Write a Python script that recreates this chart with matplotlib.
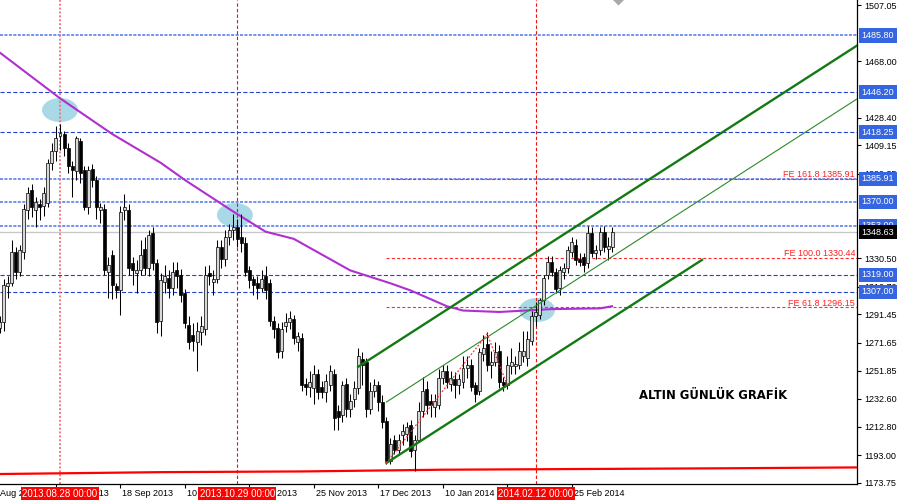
import matplotlib
matplotlib.use('Agg')
import matplotlib.pyplot as plt
import matplotlib.transforms as mtransforms
from matplotlib.patches import Ellipse
import numpy as np
import pandas as pd

plt.rcParams['font.family'] = ['Liberation Sans', 'DejaVu Sans']
plt.rcParams['lines.scale_dashes'] = False

# daily bars 2013-08-07 .. 2014-03-11, no bars on 25 Dec and 1 Jan
first_bar = '2013-08-07'
last_bar = '2014-03-11'
no_bar_days = ['2013-12-25', '2014-01-01']
anchor_day = '2013-08-28'   # bar index 0

opens = [1282, 1286, 1311, 1313, 1335, 1321, 1335, 1364, 1378, 1364, 1368, 1367, 1369, 1397, 1405,
         1416, 1417, 1407, 1395, 1391, 1412, 1392, 1366, 1393, 1385, 1364, 1365, 1321, 1333, 1311,
         1308, 1364, 1364, 1327, 1320, 1322, 1337, 1324, 1348, 1327, 1287, 1314, 1317, 1310, 1322,
         1319, 1306, 1284, 1277, 1272, 1279, 1281, 1320, 1314, 1316, 1338, 1330, 1345, 1350, 1352,
         1345, 1341, 1322, 1316, 1313, 1310, 1318, 1313, 1287, 1282, 1266, 1283, 1286, 1288, 1272,
         1275, 1243, 1241, 1240, 1250, 1241, 1237, 1242, 1250, 1224, 1221, 1243, 1225, 1232, 1240,
         1260, 1258, 1225, 1238, 1242, 1230, 1217, 1189, 1204, 1197, 1207, 1208, 1214, 1197, 1204,
         1224, 1239, 1231, 1227, 1228, 1247, 1252, 1243, 1246, 1242, 1244, 1254, 1256, 1242, 1238,
         1264, 1271, 1256, 1258, 1266, 1244, 1242, 1255, 1255, 1256, 1262, 1261, 1273, 1290, 1291,
         1301, 1319, 1328, 1321, 1310, 1321, 1324, 1335, 1340, 1330, 1331, 1327, 1348, 1334, 1336,
         1349, 1337, 1338]
highs = [1290, 1316, 1318, 1343, 1338, 1340, 1368, 1380, 1382, 1373, 1372, 1380, 1400, 1411, 1423,
         1424, 1419, 1411, 1398, 1416, 1414, 1395, 1395, 1396, 1388, 1369, 1368, 1331, 1336, 1313,
         1367, 1375, 1368, 1331, 1329, 1343, 1345, 1350, 1352, 1330, 1320, 1326, 1322, 1328, 1328,
         1323, 1309, 1290, 1285, 1286, 1290, 1325, 1326, 1322, 1343, 1343, 1350, 1354, 1361, 1358,
         1361, 1345, 1325, 1318, 1318, 1322, 1325, 1316, 1290, 1285, 1286, 1292, 1294, 1291, 1279,
         1278, 1247, 1252, 1256, 1253, 1245, 1250, 1256, 1253, 1228, 1245, 1247, 1236, 1245, 1268,
         1265, 1261, 1244, 1246, 1245, 1235, 1220, 1205, 1207, 1208, 1215, 1216, 1218, 1207, 1230,
         1248, 1245, 1236, 1236, 1253, 1256, 1256, 1252, 1251, 1250, 1262, 1262, 1260, 1244, 1268,
         1277, 1279, 1266, 1272, 1270, 1248, 1262, 1268, 1262, 1272, 1280, 1280, 1294, 1300, 1303,
         1319, 1332, 1332, 1324, 1325, 1327, 1339, 1345, 1344, 1334, 1334, 1353, 1352, 1340, 1352,
         1353, 1345, 1352]
lows = [1278, 1280, 1303, 1311, 1316, 1318, 1330, 1358, 1359, 1352, 1357, 1360, 1366, 1392, 1398,
        1406, 1402, 1390, 1373, 1385, 1383, 1364, 1361, 1380, 1358, 1355, 1319, 1303, 1302, 1303,
        1291, 1357, 1319, 1312, 1306, 1319, 1319, 1318, 1322, 1278, 1276, 1306, 1303, 1305, 1310,
        1300, 1282, 1267, 1266, 1252, 1270, 1277, 1312, 1305, 1313, 1324, 1325, 1340, 1343, 1338,
        1335, 1318, 1310, 1305, 1302, 1307, 1302, 1283, 1275, 1261, 1261, 1279, 1281, 1271, 1266,
        1238, 1235, 1234, 1229, 1232, 1233, 1230, 1238, 1211, 1211, 1216, 1220, 1220, 1227, 1236,
        1242, 1220, 1222, 1234, 1224, 1212, 1187, 1187, 1194, 1193, 1200, 1203, 1192, 1182, 1202,
        1220, 1222, 1220, 1220, 1225, 1243, 1240, 1238, 1233, 1236, 1240, 1247, 1238, 1230, 1235,
        1259, 1252, 1247, 1255, 1240, 1238, 1239, 1250, 1250, 1253, 1258, 1255, 1270, 1283, 1288,
        1298, 1316, 1318, 1306, 1305, 1316, 1320, 1331, 1326, 1325, 1321, 1324, 1331, 1330, 1333,
        1335, 1329, 1335]
closes = [1286, 1312, 1313, 1335, 1321, 1336, 1365, 1376, 1366, 1370, 1366, 1376, 1397, 1405, 1414,
          1418, 1407, 1395, 1392, 1414, 1390, 1366, 1392, 1385, 1366, 1366, 1322, 1326, 1312, 1308,
          1363, 1366, 1324, 1322, 1322, 1333, 1324, 1347, 1327, 1286, 1315, 1318, 1310, 1321, 1318,
          1305, 1285, 1272, 1273, 1280, 1283, 1319, 1318, 1316, 1338, 1330, 1345, 1350, 1352, 1344,
          1341, 1321, 1315, 1312, 1310, 1316, 1308, 1287, 1281, 1265, 1281, 1286, 1289, 1275, 1276,
          1242, 1241, 1244, 1250, 1237, 1237, 1245, 1252, 1219, 1220, 1242, 1225, 1231, 1240, 1262,
          1256, 1225, 1238, 1242, 1230, 1216, 1189, 1201, 1197, 1204, 1210, 1213, 1196, 1204, 1224,
          1238, 1228, 1228, 1231, 1247, 1252, 1244, 1247, 1242, 1246, 1254, 1256, 1241, 1236, 1265,
          1268, 1256, 1258, 1265, 1244, 1242, 1256, 1258, 1257, 1266, 1266, 1274, 1290, 1293, 1301,
          1317, 1328, 1321, 1309, 1322, 1324, 1336, 1342, 1329, 1328, 1326, 1348, 1334, 1336, 1349,
          1338, 1339, 1348.63]

# moving averages (bar index, price)
purple_k = [-15, 0, 13, 25, 31, 43, 51, 58, 65, 72, 82, 87, 96, 100, 109, 122, 134, 136, 137]
purple_v = [1474, 1442, 1417, 1397, 1385, 1363, 1349, 1344, 1333, 1322, 1313, 1308, 1297, 1294,
            1293, 1295, 1295.5, 1296.5, 1297]
red_k = [-15, 25, 60, 95, 165, 198]
red_v = [1180.0, 1181.3, 1181.8, 1183.0, 1184.0, 1184.6]

# horizontal levels
levels = [1485.80, 1446.20, 1418.25, 1385.91, 1370.00, 1353.00, 1319.00, 1307.00]
level_dark = [False, True, True, False, False, False, True, True]
fe_ratios = ['161.8', '100.0', '61.8']
fe_levels = [1385.91, 1330.44, 1296.15]
last_price = 1348.63

# vertical marker days
marker_days = ['2013-08-28', '2013-10-29', '2014-02-12']

# channel lines (bar index, price)
upper_k, upper_p = [74, 200], [1254.8, 1482.8]
middle_k, middle_p = [81, 200], [1230.2, 1445.6]
lower_k, lower_p = [81, 159.3], [1187.7, 1329.3]

# fibo expansion swing points
swing_k = [81, 106, 111]
swing_p = [1187.7, 1277.6, 1242.0]

# highlighted touches
touch_k = [0, 43.4, 118.4]
touch_p = [1433.8, 1360.6, 1294.4]

ytick_vals = [1507.05, 1468.00, 1428.40, 1409.15, 1389.35,
              1330.50, 1310.70, 1291.45, 1271.65, 1251.85, 1232.60, 1212.80, 1193.00, 1173.75]
xtick_days = ['2013-08-05', '2013-08-27', '2013-09-18', '2013-10-10', '2013-11-01', '2013-11-25',
              '2013-12-17', '2014-01-10', '2014-02-03', '2014-02-25']

title_text = 'ALTIN GÜNLÜK GRAFİK'

# ---- bar index from dates ----
days = pd.bdate_range('2013-08-01', last_bar)
days = days[~days.isin(pd.to_datetime(no_bar_days))]
day_pos = {d: i for i, d in enumerate(days)}
base = day_pos[pd.Timestamp(anchor_day)]
def bar_of(d):
    return day_pos[pd.Timestamp(d)] - base

k = np.arange(bar_of(first_bar), bar_of(last_bar) + 1)
o, h, l, c = (np.array(a, dtype=float) for a in (opens, highs, lows, closes))

fig = plt.figure(figsize=(9, 5), dpi=100)
ax = fig.add_axes([0, 16 / 500, 857 / 900, 484 / 500])
px = 4.03
x0 = -60 / px
ax.set_xlim(x0, x0 + 857 / px)
ax.set_ylim(1173.04, 1510.54)

for s in ['left', 'top']:
    ax.spines[s].set_visible(False)
for s in ['right', 'bottom']:
    ax.spines[s].set_linewidth(0.9)

# highlight ellipses
for tk, tp in zip(touch_k, touch_p):
    ax.add_patch(Ellipse((tk, tp), 8.9, 16.7, fc='#a9d8e6', ec='none', zorder=0.5))

# levels
for lv, dark in zip(levels, level_dark):
    if dark:
        ax.axhline(lv, color='#2244c8', lw=0.8, dashes=(3, 1.6), zorder=1)
    else:
        ax.axhline(lv, color='#7393ee', lw=1.4, dashes=(2.2, 1.0), zorder=1)
ax.axhline(last_price, color='#c8c8c8', lw=1.0, zorder=1)

xr = ax.get_xlim()[1]
for lv, r in zip(fe_levels, fe_ratios):
    ax.hlines(lv, swing_k[0], xr, color='#ff2a2a', lw=0.8, linestyles=(0, (2.2, 1.6)), zorder=1.2)
    ax.text(855 / 857, lv + 1.3, f'FE {r} {lv:.2f}', color='#ff2020', fontsize=6.5,
            ha='right', va='baseline', transform=mtransforms.blended_transform_factory(ax.transAxes, ax.transData),
            zorder=6)

# vertical markers
for i, d in enumerate(marker_days):
    if i == 0:
        ax.axvline(bar_of(d), color='#f07272', lw=1.3, dashes=(1.4, 1.4), zorder=1)
    else:
        ax.axvline(bar_of(d), color='#ee1111', lw=0.8, dashes=(2.4, 1.6), zorder=1)

# moving averages
ax.plot(purple_k, purple_v, color='#b02fcf', lw=1.5, zorder=3)
ax.plot(red_k, red_v, color='#ff0000', lw=1.6, zorder=3)

# candles
up = c >= o
ax.vlines(k, l, h, color='black', lw=0.75, zorder=4)
body_lo = np.minimum(o, c)
body_h = np.maximum(np.abs(c - o), 0.7)
ax.bar(k[up], body_h[up], bottom=body_lo[up], width=0.74, color='#d8d8d8', edgecolor='black', lw=0.5, zorder=4.5)
ax.bar(k[~up], body_h[~up], bottom=body_lo[~up], width=0.74, color='black', edgecolor='black', lw=0.5, zorder=4.5)

# channel
ax.plot(upper_k, upper_p, color='#137a13', lw=1.7, zorder=5)
ax.plot(lower_k, lower_p, color='#137a13', lw=1.7, zorder=5)
ax.plot(middle_k, middle_p, color='#2b8a2b', lw=0.8, zorder=5)
ax.plot(swing_k, swing_p, color='#ff3030', lw=0.9, dashes=(1.3, 1.3), zorder=5.5)

# marker at the top
ax.plot([138.5], [1512.0], marker='D', ms=7, color='#a8a8a8', mec='none', zorder=2)

ax.text(162, 1235.1, title_text, fontsize=8.4, fontweight='bold', family='DejaVu Sans',
        ha='center', va='center', zorder=6)

# y axis on the right
ax.yaxis.tick_right()
ax.set_yticks(ytick_vals)
ax.set_yticklabels([f'{v:.2f}' for v in ytick_vals])
ax.tick_params(axis='y', labelsize=6.5, length=3, width=0.8, pad=2.5)

ytr = mtransforms.blended_transform_factory(ax.transAxes, ax.transData)
for lv in levels:
    ax.text(1 + 4.5 / 857, lv, f'{lv:.2f}', transform=ytr, fontsize=6.5, color='white',
            ha='left', va='center', clip_on=False, zorder=10,
            bbox=dict(boxstyle='square,pad=0.28', fc='#3565e0', ec='none'))
ax.text(1 + 4.5 / 857, last_price, f'{last_price:.2f}', transform=ytr, fontsize=6.5, color='white',
        ha='left', va='center', clip_on=False, zorder=11,
        bbox=dict(boxstyle='square,pad=0.28', fc='black', ec='none'))

# x axis: tick marks and left-aligned labels
xt = [bar_of(d) for d in xtick_days]
ax.set_xticks([v for v in xt if v > x0])
ax.set_xticklabels([])
ax.tick_params(axis='x', length=3, width=0.8)
xtr = mtransforms.blended_transform_factory(ax.transData, ax.transAxes)
for d, v in zip(xtick_days, xt):
    ts = pd.Timestamp(d)
    ax.text(v + 2 / px, -0.011, f'{ts.day} {ts:%b %Y}', transform=xtr, fontsize=6.5,
            ha='left', va='top', clip_on=False, zorder=8)
for d in marker_days:
    ax.text(bar_of(d), -0.010, f'{pd.Timestamp(d):%Y.%m.%d} 00:00', transform=xtr, fontsize=7,
            color='white', ha='center', va='top', clip_on=False, zorder=10,
            bbox=dict(boxstyle='square,pad=0.15', fc='#ff0000', ec='none'))

fig.savefig('out.png', dpi=100)
plt.close(fig)
